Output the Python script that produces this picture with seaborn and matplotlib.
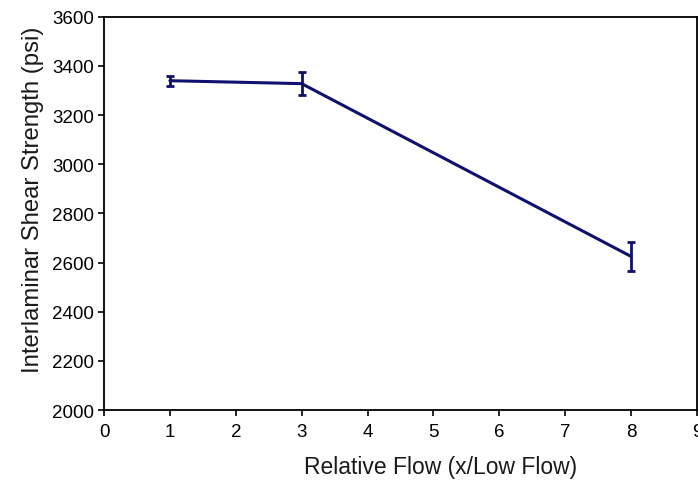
# Recreación del gráfico de resistencia al corte interlaminar
import numpy as np
import pandas as pd
import matplotlib
matplotlib.use("Agg")
import matplotlib.pyplot as plt
import seaborn as sns

# Datos
flujo_relativo = [1, 3, 8]
resistencia = [3340, 3328, 2625]
error = [20, 48, 60]

df = pd.DataFrame({'Flujo': flujo_relativo, 'Resistencia': resistencia, 'Error': error})

# Estilo
sns.set_style("white")
plt.rcParams['font.family'] = ['Liberation Sans', 'DejaVu Sans']

color_linea = '#10106e'

fig = plt.figure(figsize=(6.98, 4.81), dpi=100)
ax = fig.add_axes([0.149, 0.1455, 0.8495, 0.8175])

sns.lineplot(data=df, x='Flujo', y='Resistencia', color=color_linea, linewidth=2.2, ax=ax)
ax.errorbar(df['Flujo'], df['Resistencia'], yerr=df['Error'], fmt='none',
            ecolor=color_linea, elinewidth=2, capsize=3, capthick=2)

ax.set_xlim(0, 9)
ax.set_ylim(2000, 3600)
ax.set_xticks(range(0, 10))
ax.set_yticks(range(2000, 3601, 200))
ax.tick_params(axis='both', direction='out', length=4, width=1.2, labelsize=13.5,
               bottom=True, left=True, colors='black')
ax.tick_params(axis='x', pad=5)
ax.tick_params(axis='y', pad=3)

for spine in ax.spines.values():
    spine.set_color('black')
    spine.set_linewidth(1.3)

ax.set_xlabel('Relative Flow (x/Low Flow)', fontsize=16.5, labelpad=11, color='#1a1a1a')
ax.set_ylabel('Interlaminar Shear Strength (psi)', fontsize=17.2, labelpad=6, color='#1a1a1a')
ax.xaxis.label.set_x(0.568)
ax.yaxis.label.set_y(0.537)

fig.savefig('out.png', dpi=100)
